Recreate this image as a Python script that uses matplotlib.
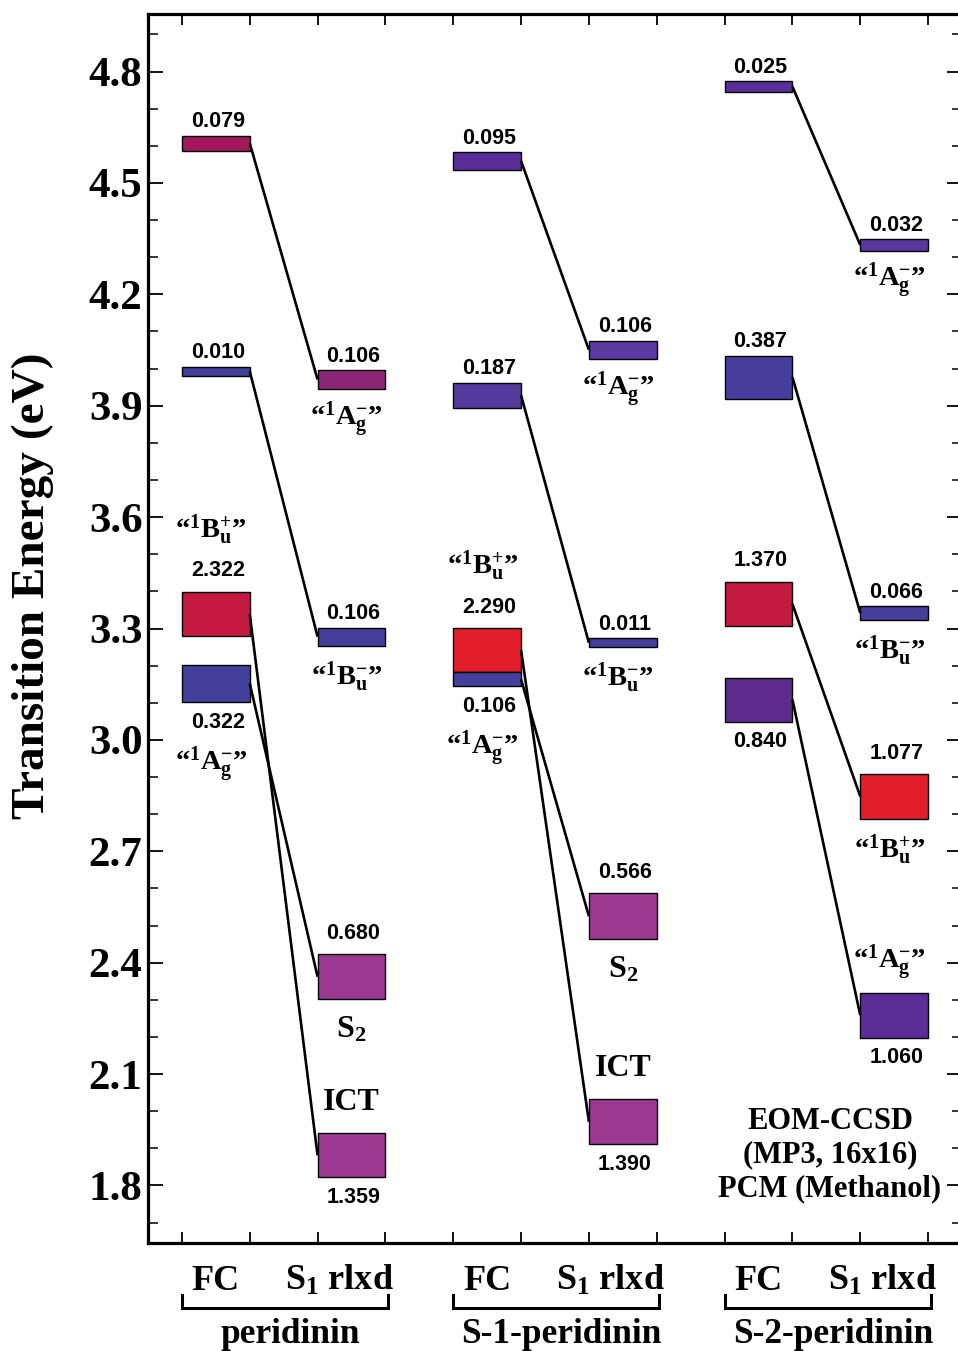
import matplotlib
matplotlib.use("Agg")
import matplotlib.pyplot as plt
import matplotlib.transforms as mtransforms

plt.rcParams['mathtext.fontset'] = 'custom'
plt.rcParams['mathtext.rm'] = 'Liberation Serif:bold'
plt.rcParams['mathtext.it'] = 'Liberation Serif:bold'
plt.rcParams['mathtext.bf'] = 'Liberation Serif:bold'
plt.rcParams['mathtext.default'] = 'rm'

# ---------------- data ----------------
groups = ['peridinin', 'S-1-peridinin', 'S-2-peridinin']
columns = ['FC', r'S$_1$ rlxd']

# peridinin
per_fc_top = [4.627, 4.005, 3.399, 3.203]
per_fc_bot = [4.587, 3.981, 3.279, 3.101]
per_fc_f = ['0.079', '0.010', '2.322', '0.322']
per_s1_top = [3.995, 3.302, 2.423, 1.940]
per_s1_bot = [3.946, 3.254, 2.301, 1.822]
per_s1_f = ['0.106', '0.106', '0.680', '1.359']
per_links = [(0, 0), (1, 1), (2, 3), (3, 2)]

# S-1-peridinin
s1p_fc_top = [4.582, 3.962, 3.301, 3.182]
s1p_fc_bot = [4.536, 3.894, 3.182, 3.144]
s1p_fc_f = ['0.095', '0.187', '2.290', '0.106']
s1p_s1_top = [4.075, 3.274, 2.587, 2.032]
s1p_s1_bot = [4.026, 3.249, 2.463, 1.911]
s1p_s1_f = ['0.106', '0.011', '0.566', '1.390']
s1p_links = [(0, 0), (1, 1), (2, 3), (3, 2)]

# S-2-peridinin
s2p_fc_top = [4.774, 4.035, 3.426, 3.168]
s2p_fc_bot = [4.745, 3.919, 3.306, 3.049]
s2p_fc_f = ['0.025', '0.387', '1.370', '0.840']
s2p_s1_top = [4.348, 3.360, 2.908, 2.319]
s2p_s1_bot = [4.318, 3.324, 2.788, 2.198]
s2p_s1_f = ['0.032', '0.066', '1.077', '1.060']
s2p_links = [(0, 0), (1, 1), (2, 2), (3, 3)]

AG = r'“$^{1}$A$_{g}^{-}$”'
BUm = r'“$^{1}$B$_{u}^{-}$”'
BUp = r'“$^{1}$B$_{u}^{+}$”'
S2 = r'S$_2$'
ICT = 'ICT'

per_fc_state = [None, None, BUp, AG]
per_s1_state = [AG, BUm, S2, ICT]
s1p_fc_state = [None, None, BUp, AG]
s1p_s1_state = [AG, BUm, S2, ICT]
s2p_fc_state = [None, None, None, None]
s2p_s1_state = [AG, BUm, BUp, AG]

# state label side ('a' above, 'b' below); value label side
fc_state_side = [None, None, 'a', 'b']
s1_state_side = ['b', 'b', 'b', 'a']
s2_s1_state_side = ['b', 'b', 'b', 'a']
value_side = ['a', 'a', 'a', 'b']

# colours
C_MAG = '#A31A5C'
C_PM = '#8C2777'
C_BLUE = '#433F9B'
C_CRIM = '#C51A40'
C_RED = '#E31E2B'
C_VIO = '#9C3A93'
C_PUR = '#5A2E98'
C_PUR2 = '#5F2A8E'
C_BP = '#463D9C'

per_fc_col = [C_MAG, C_BLUE, C_CRIM, C_BLUE]
per_s1_col = [C_PM, C_BLUE, C_VIO, C_VIO]
s1p_fc_col = [C_PUR, '#553A9E', C_RED, C_BLUE]
s1p_s1_col = ['#5A3AA0', C_BLUE, C_VIO, C_VIO]
s2p_fc_col = [C_PUR, C_BP, C_CRIM, C_PUR2]
s2p_s1_col = ['#5A35A0', C_BLUE, C_RED, '#5B2D96']

sets = [
    (per_fc_top, per_fc_bot, per_fc_f, per_fc_col, per_fc_state, fc_state_side,
     per_s1_top, per_s1_bot, per_s1_f, per_s1_col, per_s1_state, s1_state_side, per_links),
    (s1p_fc_top, s1p_fc_bot, s1p_fc_f, s1p_fc_col, s1p_fc_state, fc_state_side,
     s1p_s1_top, s1p_s1_bot, s1p_s1_f, s1p_s1_col, s1p_s1_state, s1_state_side, s1p_links),
    (s2p_fc_top, s2p_fc_bot, s2p_fc_f, s2p_fc_col, s2p_fc_state, fc_state_side,
     s2p_s1_top, s2p_s1_bot, s2p_s1_f, s2p_s1_col, s2p_s1_state, s2_s1_state_side, s2p_links),
]

# ---------------- layout ----------------
W, H = 958, 1351
fig = plt.figure(figsize=(W / 100, H / 100), dpi=100)
ax_l, ax_r, ax_t, ax_b = 148, 962, 14, 1243
ax = fig.add_axes([ax_l / W, (H - ax_b) / H, (ax_r - ax_l) / W, (ax_b - ax_t) / H])
ax.set_xlim(0.5, 12.5)
ax.set_ylim(1.645, 4.955)

VAL_FONT = dict(family='Liberation Sans', weight='bold', size=15.5)
SER = 'Liberation Serif'
value_off = [10, 10, 15, 14.5]
STATE_SAME = 45
STATE_OPP = 22


def draw_column(x0, tops, bots, vals, cols, states, sides):
    for i in range(len(tops)):
        ax.bar(x0 + 0.5, tops[i] - bots[i], bottom=bots[i], width=1.0,
               color=cols[i], edgecolor='black', linewidth=1.0, zorder=3)
        xc = x0 + 0.5
        if value_side[i] == 'a':
            ax.annotate(vals[i], (xc + 0.03, tops[i]), xytext=(0, value_off[i]),
                        textcoords='offset points', ha='center', va='center', **VAL_FONT)
        else:
            ax.annotate(vals[i], (xc + 0.03, bots[i]), xytext=(0, -value_off[i]),
                        textcoords='offset points', ha='center', va='center', **VAL_FONT)
        st = states[i]
        if st is None:
            continue
        side = sides[i]
        off = STATE_SAME if side == value_side[i] else STATE_OPP
        if st in (S2, ICT):
            size, dx = 23, 0
        else:
            size, dx = 20.5, -3.5
        if side == 'a':
            ax.annotate(st, (xc, tops[i]), xytext=(dx, off), textcoords='offset points',
                        ha='center', va='center', family=SER, weight='bold', size=size)
        else:
            ax.annotate(st, (xc, bots[i]), xytext=(dx, -off), textcoords='offset points',
                        ha='center', va='center', family=SER, weight='bold', size=size)


for g, s in enumerate(sets):
    (ft, fb, ff, fcol, fst, fsd, st_, sb, sf, scol, sst, ssd, links) = s
    x_fc = 1 + 4 * g
    x_s1 = 3 + 4 * g
    draw_column(x_fc, ft, fb, ff, fcol, fst, fsd)
    draw_column(x_s1, st_, sb, sf, scol, sst, ssd)
    for a, b in links:
        ax.plot([x_fc + 1, x_s1], [(ft[a] + fb[a]) / 2, (st_[b] + sb[b]) / 2],
                color='black', lw=1.9, zorder=4, solid_capstyle='butt')

# axes styling
for sp in ax.spines.values():
    sp.set_linewidth(2.3)
ax.set_yticks([1.8, 2.1, 2.4, 2.7, 3.0, 3.3, 3.6, 3.9, 4.2, 4.5, 4.8])
ax.set_yticklabels(['1.8', '2.1', '2.4', '2.7', '3.0', '3.3', '3.6', '3.9', '4.2', '4.5', '4.8'])
ax.set_yticks([v / 10 for v in range(17, 50)], minor=True)
ax.set_xticks(list(range(1, 13)))
ax.set_xticklabels([])
ax.tick_params(axis='y', which='major', direction='in', length=11, width=1.3,
               left=True, right=True, pad=4)
ax.tick_params(axis='y', which='minor', direction='in', length=7, width=1.1,
               left=True, right=True)
ax.tick_params(axis='x', which='major', direction='in', length=8, width=1.3,
               top=True, bottom=True)
for lab in ax.get_yticklabels():
    lab.set_fontfamily(SER)
    lab.set_fontweight('bold')
    lab.set_fontsize(31)

fig.text(33 / W, 1 - 586 / H, 'Transition Energy (eV)', rotation=90, ha='center',
         va='center', family=SER, weight='bold', size=34)

# bottom category labels
trans = mtransforms.blended_transform_factory(ax.transData, ax.transAxes)
AXH = ax_b - ax_t


def yfrac(py):
    return (ax_b - py) / AXH


for g, name in enumerate(groups):
    x_fc = 1 + 4 * g
    x_s1 = 3 + 4 * g
    ax.text(x_fc + 0.5, yfrac(1290), columns[0], transform=trans, ha='center',
            va='baseline', family=SER, weight='bold', size=26, clip_on=False)
    ax.text(x_s1 + 0.5 - 0.18, yfrac(1290), columns[1], transform=trans, ha='center',
            va='baseline', family=SER, weight='bold', size=26, clip_on=False)
    ax.plot([x_fc, x_fc, x_s1 + 1.04, x_s1 + 1.04],
            [yfrac(1295), yfrac(1308), yfrac(1308), yfrac(1295)],
            transform=trans, color='black', lw=2.2, clip_on=False,
            solid_joinstyle='miter')
    ax.text((x_fc + x_s1 + 1) / 2 + 0.1, yfrac(1343), name, transform=trans,
            ha='center', va='baseline', family=SER, weight='bold', size=25.5,
            clip_on=False)

ax.text((830 - ax_l) / (ax_r - ax_l), yfrac(1155),
        'EOM-CCSD\n(MP3, 16x16)\nPCM (Methanol)', transform=ax.transAxes,
        ha='center', va='center', multialignment='center', family=SER,
        weight='bold', size=22, linespacing=1.2)

fig.savefig('out.png', dpi=100)
